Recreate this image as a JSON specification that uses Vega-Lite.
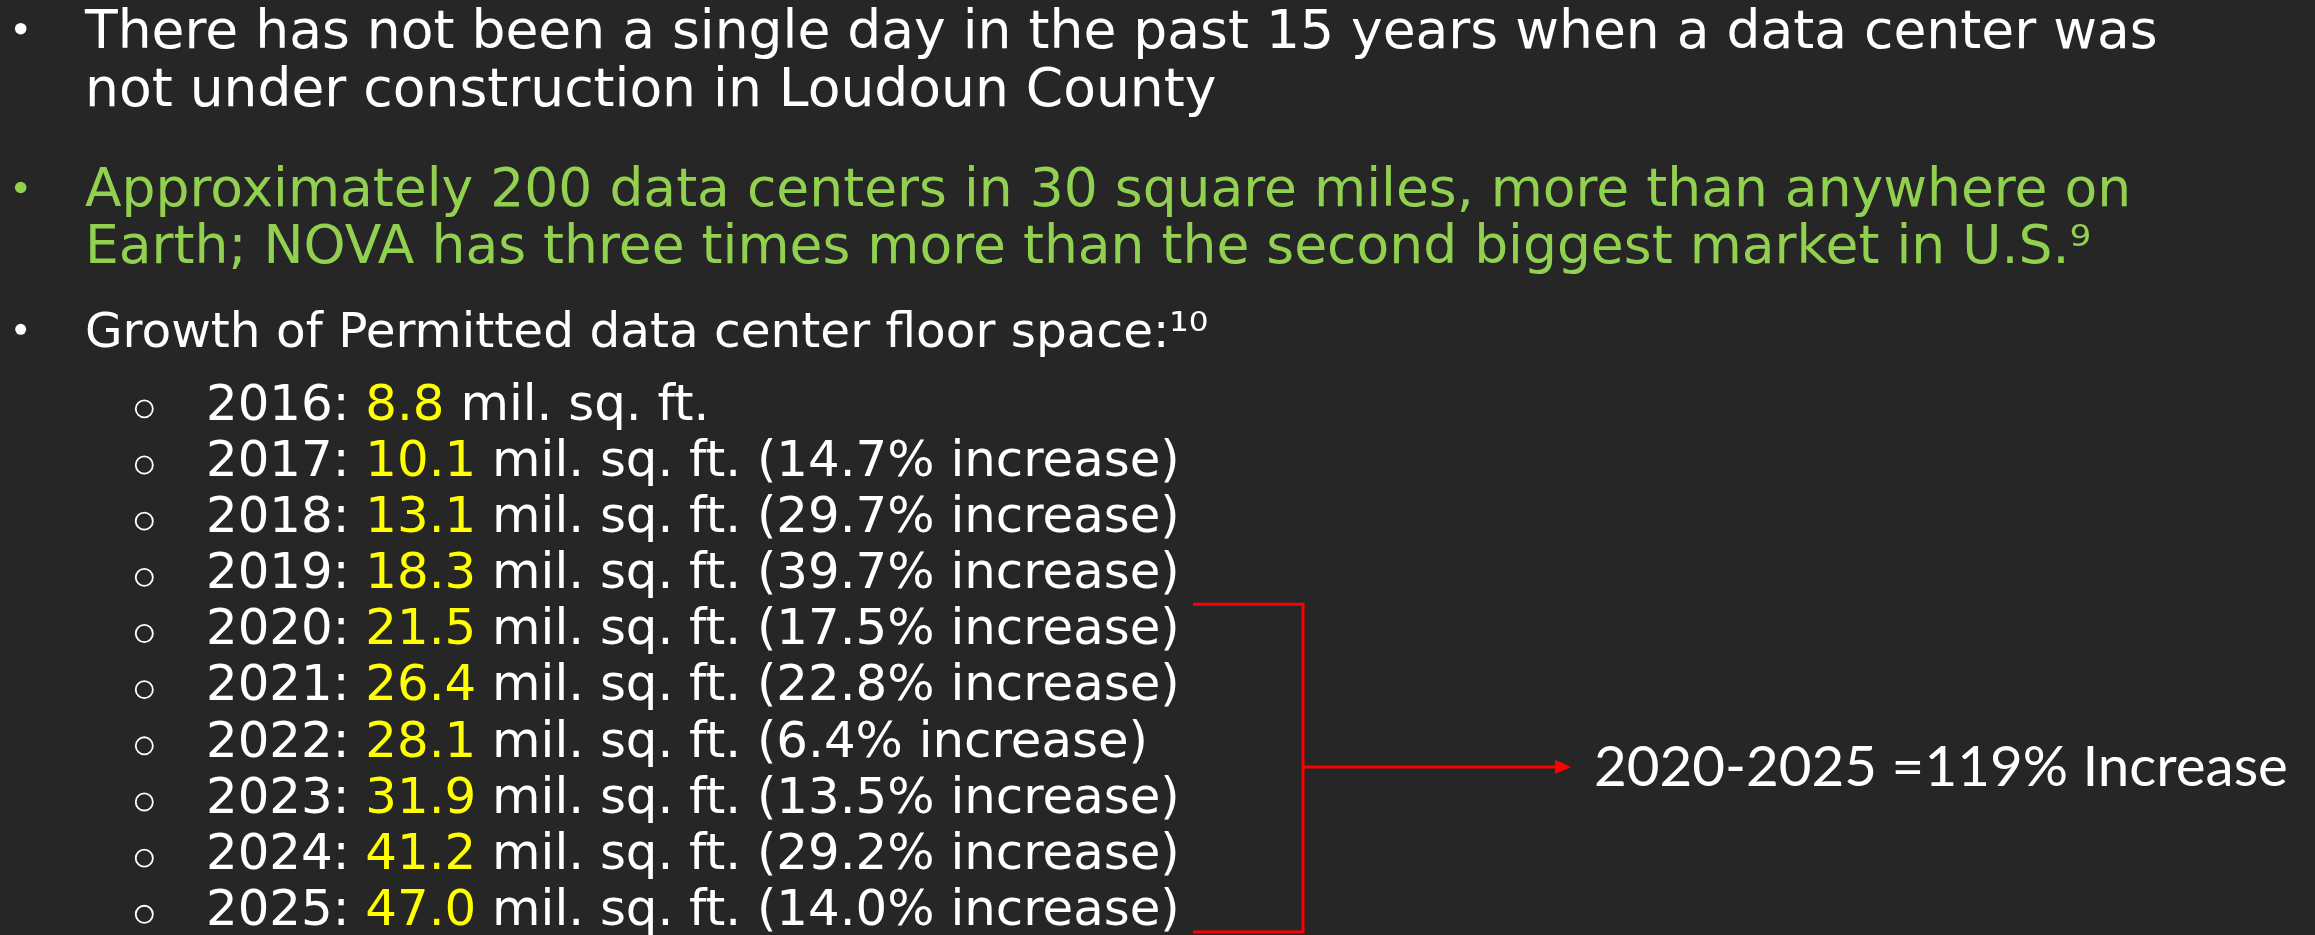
{
  "$schema": "https://vega.github.io/schema/vega-lite/v6.json",
  "width": 2315,
  "height": 935,
  "autosize": {"type": "fit", "contains": "padding"},
  "padding": 0,
  "background": "#262626",
  "config": {"view": {"stroke": null}, "text": {"font": "DejaVu Sans"}},
  "datasets": {
    "bullets": [
      {"para": 1, "lines": ["There has not been a single day in the past 15 years when a data center was", "not under construction in Loudoun County"]},
      {"para": 2, "lines": ["Approximately 200 data centers in 30 square miles, more than anywhere on", "Earth; NOVA has three times more than the second biggest market in U.S.⁹"]},
      {"para": 3, "lines": ["Growth of Permitted data center floor space:¹⁰"]}
    ],
    "floor_space": [
      {"year": 2016, "size": 8.8, "growth": null},
      {"year": 2017, "size": 10.1, "growth": 14.7},
      {"year": 2018, "size": 13.1, "growth": 29.7},
      {"year": 2019, "size": 18.3, "growth": 39.7},
      {"year": 2020, "size": 21.5, "growth": 17.5},
      {"year": 2021, "size": 26.4, "growth": 22.8},
      {"year": 2022, "size": 28.1, "growth": 6.4},
      {"year": 2023, "size": 31.9, "growth": 13.5},
      {"year": 2024, "size": 41.2, "growth": 29.2},
      {"year": 2025, "size": 47.0, "growth": 14.0}
    ],
    "span": [
      {"from": 2020, "to": 2025, "label": "2020-2025 =119% Increase"}
    ]
  },
  "layer": [
    {
      "data": {"name": "bullets"},
      "layer": [
        {
          "transform": [{"filter": "datum.para == 1"}],
          "layer": [
            {
              "mark": {"type": "point", "shape": "circle", "filled": true, "color": "#ffffff", "opacity": 1, "size": 133, "yOffset": -19},
              "encoding": {
                "x": {"datum": 0.894, "type": "quantitative", "scale": {"domain": [0, 100], "nice": false, "zero": false}, "axis": null},
                "y": {"field": "para", "type": "quantitative", "scale": {"domain": [0.682, 6.9153], "reverse": true, "nice": false, "zero": false}, "axis": null}
              }
            },
            {
              "mark": {"type": "text", "align": "left", "baseline": "alphabetic", "fontSize": 53.5, "lineHeight": 58.3, "color": "#ffffff"},
              "encoding": {
                "x": {"datum": 3.672, "type": "quantitative", "scale": {"domain": [0, 100], "nice": false, "zero": false}, "axis": null},
                "y": {"field": "para", "type": "quantitative", "scale": {"domain": [0.682, 6.9153], "reverse": true, "nice": false, "zero": false}, "axis": null},
                "text": {"field": "lines", "type": "nominal"}
              }
            }
          ]
        },
        {
          "transform": [{"filter": "datum.para == 2"}],
          "layer": [
            {
              "mark": {"type": "point", "shape": "circle", "filled": true, "color": "#92d050", "opacity": 1, "size": 133, "yOffset": -10},
              "encoding": {
                "x": {"datum": 0.894, "type": "quantitative", "scale": {"domain": [0, 100], "nice": false, "zero": false}, "axis": null},
                "y": {"field": "para", "type": "quantitative", "scale": {"domain": [0.682, 6.9153], "reverse": true, "nice": false, "zero": false}, "axis": null}
              }
            },
            {
              "mark": {"type": "text", "align": "left", "baseline": "alphabetic", "fontSize": 53.5, "lineHeight": 56.6, "color": "#92d050", "yOffset": 9},
              "encoding": {
                "x": {"datum": 3.672, "type": "quantitative", "scale": {"domain": [0, 100], "nice": false, "zero": false}, "axis": null},
                "y": {"field": "para", "type": "quantitative", "scale": {"domain": [0.682, 6.9153], "reverse": true, "nice": false, "zero": false}, "axis": null},
                "text": {"field": "lines", "type": "nominal"}
              }
            }
          ]
        },
        {
          "transform": [{"filter": "datum.para == 3"}],
          "layer": [
            {
              "mark": {"type": "point", "shape": "circle", "filled": true, "color": "#ffffff", "opacity": 1, "size": 120, "yOffset": -18},
              "encoding": {
                "x": {"datum": 0.894, "type": "quantitative", "scale": {"domain": [0, 100], "nice": false, "zero": false}, "axis": null},
                "y": {"field": "para", "type": "quantitative", "scale": {"domain": [0.682, 6.9153], "reverse": true, "nice": false, "zero": false}, "axis": null}
              }
            },
            {
              "mark": {"type": "text", "align": "left", "baseline": "alphabetic", "fontSize": 48.5, "color": "#ffffff"},
              "encoding": {
                "x": {"datum": 3.672, "type": "quantitative", "scale": {"domain": [0, 100], "nice": false, "zero": false}, "axis": null},
                "y": {"field": "para", "type": "quantitative", "scale": {"domain": [0.682, 6.9153], "reverse": true, "nice": false, "zero": false}, "axis": null},
                "text": {"field": "lines", "type": "nominal"}
              }
            }
          ]
        }
      ]
    },
    {
      "layer": [
        {
          "data": {"name": "floor_space"},
          "layer": [
            {
              "mark": {"type": "point", "shape": "circle", "filled": false, "stroke": "#ffffff", "strokeWidth": 1.8, "opacity": 1, "size": 292, "yOffset": -10.7},
              "encoding": {
                "x": {"datum": 6.233, "type": "quantitative", "scale": {"domain": [0, 100], "nice": false, "zero": false}, "axis": null},
                "y": {"field": "year", "type": "quantitative", "scale": {"domain": [2008.5293, 2025.1603], "reverse": true, "nice": false, "zero": false}, "axis": null}
              }
            },
            {
              "mark": {"type": "text", "align": "left", "baseline": "alphabetic", "fontSize": 49.8, "color": "#ffffff",
                "text": {"expr": "datum.year + ':'"}},
              "encoding": {
                "x": {"datum": 8.8985, "type": "quantitative", "scale": {"domain": [0, 100], "nice": false, "zero": false}, "axis": null},
                "y": {"field": "year", "type": "quantitative", "scale": {"domain": [2008.5293, 2025.1603], "reverse": true, "nice": false, "zero": false}, "axis": null}
              }
            },
            {
              "mark": {"type": "text", "align": "left", "baseline": "alphabetic", "fontSize": 49.8, "color": "#ffff00"},
              "encoding": {
                "x": {"datum": 15.7819, "type": "quantitative", "scale": {"domain": [0, 100], "nice": false, "zero": false}, "axis": null},
                "y": {"field": "year", "type": "quantitative", "scale": {"domain": [2008.5293, 2025.1603], "reverse": true, "nice": false, "zero": false}, "axis": null},
                "text": {"field": "size", "type": "quantitative", "format": ".1f"}
              }
            },
            {
              "transform": [{"filter": "datum.size >= 10"}],
              "mark": {"type": "text", "align": "left", "baseline": "alphabetic", "fontSize": 49.8, "color": "#ffffff",
                "text": {"expr": "'mil. sq. ft.' + (isValid(datum.growth) ? ' (' + format(datum.growth, '.1f') + '% increase)' : '')"}},
              "encoding": {
                "x": {"datum": 21.2553, "type": "quantitative", "scale": {"domain": [0, 100], "nice": false, "zero": false}, "axis": null},
                "y": {"field": "year", "type": "quantitative", "scale": {"domain": [2008.5293, 2025.1603], "reverse": true, "nice": false, "zero": false}, "axis": null}
              }
            },
            {
              "transform": [{"filter": "datum.size < 10"}],
              "mark": {"type": "text", "align": "left", "baseline": "alphabetic", "fontSize": 49.8, "color": "#ffffff",
                "text": {"expr": "'mil. sq. ft.' + (isValid(datum.growth) ? ' (' + format(datum.growth, '.1f') + '% increase)' : '')"}},
              "encoding": {
                "x": {"datum": 19.8868, "type": "quantitative", "scale": {"domain": [0, 100], "nice": false, "zero": false}, "axis": null},
                "y": {"field": "year", "type": "quantitative", "scale": {"domain": [2008.5293, 2025.1603], "reverse": true, "nice": false, "zero": false}, "axis": null}
              }
            }
          ]
        },
        {
          "data": {"name": "span"},
          "layer": [
            {
              "mark": {"type": "rule", "color": "#ff0000", "strokeWidth": 3, "yOffset": -40},
              "encoding": {
                "x": {"datum": 51.533, "type": "quantitative", "scale": {"domain": [0, 100], "nice": false, "zero": false}, "axis": null},
                "x2": {"datum": 56.285},
                "y": {"field": "from", "type": "quantitative", "scale": {"domain": [2008.5293, 2025.1603], "reverse": true, "nice": false, "zero": false}, "axis": null}
              }
            },
            {
              "mark": {"type": "rule", "color": "#ff0000", "strokeWidth": 3, "yOffset": 7},
              "encoding": {
                "x": {"datum": 51.533, "type": "quantitative", "scale": {"domain": [0, 100], "nice": false, "zero": false}, "axis": null},
                "x2": {"datum": 56.285},
                "y": {"field": "to", "type": "quantitative", "scale": {"domain": [2008.5293, 2025.1603], "reverse": true, "nice": false, "zero": false}, "axis": null}
              }
            },
            {
              "mark": {"type": "rule", "color": "#ff0000", "strokeWidth": 3, "strokeCap": "square", "yOffset": -40, "y2Offset": 7},
              "encoding": {
                "x": {"datum": 56.285, "type": "quantitative", "scale": {"domain": [0, 100], "nice": false, "zero": false}, "axis": null},
                "y": {"field": "from", "type": "quantitative", "scale": {"domain": [2008.5293, 2025.1603], "reverse": true, "nice": false, "zero": false}, "axis": null},
                "y2": {"field": "to"}
              }
            },
            {
              "mark": {"type": "rule", "color": "#ff0000", "strokeWidth": 3, "yOffset": -17.7},
              "encoding": {
                "x": {"datum": 56.285, "type": "quantitative", "scale": {"domain": [0, 100], "nice": false, "zero": false}, "axis": null},
                "x2": {"datum": 67.257},
                "y": {"datum": 2022.5, "type": "quantitative", "scale": {"domain": [2008.5293, 2025.1603], "reverse": true, "nice": false, "zero": false}, "axis": null}
              }
            },
            {
              "mark": {"type": "point", "shape": "M-1,-0.9L1,0L-1,0.9Z", "filled": true, "color": "#ff0000", "opacity": 1, "size": 256, "yOffset": -17.7},
              "encoding": {
                "x": {"datum": 67.516, "type": "quantitative", "scale": {"domain": [0, 100], "nice": false, "zero": false}, "axis": null},
                "y": {"datum": 2022.5, "type": "quantitative", "scale": {"domain": [2008.5293, 2025.1603], "reverse": true, "nice": false, "zero": false}, "axis": null}
              }
            },
            {
              "mark": {"type": "text", "align": "left", "baseline": "alphabetic", "font": "Lato", "fontSize": 56.5, "color": "#ffffff", "yOffset": 1.9},
              "encoding": {
                "x": {"datum": 68.855, "type": "quantitative", "scale": {"domain": [0, 100], "nice": false, "zero": false}, "axis": null},
                "y": {"datum": 2022.5, "type": "quantitative", "scale": {"domain": [2008.5293, 2025.1603], "reverse": true, "nice": false, "zero": false}, "axis": null},
                "text": {"field": "label", "type": "nominal"}
              }
            }
          ]
        }
      ]
    }
  ],
  "resolve": {"scale": {"y": "independent"}}
}
